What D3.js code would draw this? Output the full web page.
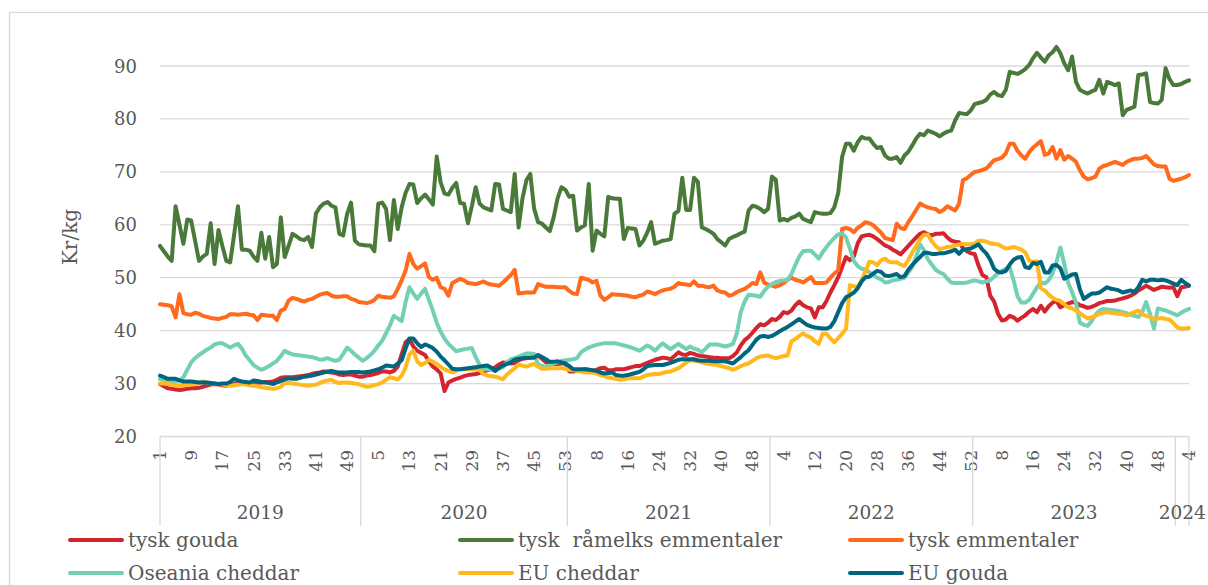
<!DOCTYPE html>
<html>
<head>
<meta charset="utf-8">
<script src="https://cdn.jsdelivr.net/npm/d3@7"></script>
<style>
  body { margin: 0; background: #fff; }
  text { font-family: "DejaVu Serif", Georgia, serif; fill: #595959; }
</style>
</head>
<body>
<div id="chart"></div>
<script>
// categories: weeks grouped by year
const years = [2019, 2020, 2021, 2022, 2023, 2024];
const weeksInYear = [52, 53, 52, 52, 52, 4];
const yTicks = [20, 30, 40, 50, 60, 70, 80, 90];

// series, one value per week (Kr/kg)
const tyskGouda = [
  29.9, 29.5, 29.1, 29, 28.9, 28.8, 28.9, 29, 29.1, 29.1, 29.2, 29.4, 29.6, 29.8, 29.9, 29.8, 29.7, 29.6, 29.8, 29.9,
  30, 29.9, 29.9, 29.9, 30, 30.1, 30.2, 30.3, 30.3, 30.4, 30.7, 31.1, 31.2, 31.2, 31.2, 31.3, 31.4, 31.5, 31.6, 31.8,
  32, 32.1, 32.3, 32.2, 32.1, 32, 31.7, 31.6, 31.7, 31.7, 31.5, 31.3,
  31.3, 31.5, 31.6, 31.8, 32, 32.3, 32.3, 32.1, 32.4, 33.2, 35.5, 37.8, 38.4, 37, 36.2, 35.8, 35.4, 34.2, 33.2, 32.7,
  31.9, 28.6, 30.2, 30.6, 30.9, 31.1, 31.4, 31.6, 31.7, 31.8, 32, 32.3, 32.5, 32.7, 33.1, 33.6, 34, 33.9, 33.8, 33.9,
  34.4, 34.7, 34.8, 34.9, 35.1, 35.3, 34.7, 34, 33.8, 33.7, 33.7, 33.8, 33.8,
  32.3, 32.3, 32.4, 32.5, 32.7, 32.6, 32.4, 32.6, 32.9, 33, 32.5, 32.5, 32.7, 32.7, 32.7, 32.9, 33.1, 33.3, 33.3, 33.6,
  33.9, 34.2, 34.5, 34.7, 34.9, 34.8, 34.6, 35.2, 35.9, 35.5, 35.4, 35.8, 35.6, 35.3, 35.2, 35.1, 35, 34.9, 34.9, 34.8,
  34.8, 34.8, 35.2, 35.9, 37.2, 38.2, 38.8, 39.6, 40.5, 41.2, 41, 41.5,
  42.2, 42, 42.6, 43.5, 43.3, 43.8, 44.8, 45.5, 44.8, 44.4, 44.2, 42.5, 44.4, 44.4, 45.6, 47.2, 48.6, 50.1, 52, 53.9,
  53.3, 54, 56.5, 57.8, 58, 58.1, 57.8, 57.3, 56.7, 56.1, 55.8, 55.3, 54.9, 54.4, 55.2, 56, 56.8, 57.6, 58.3, 58.6,
  58.2, 58, 58.3, 58.3, 58.4, 57.6, 57, 56.8, 56.7, 55.6, 55, 54.6,
  54.5, 52.3, 50.5, 50.1, 46.6, 45.5, 43.2, 41.9, 42.1, 42.8, 42.5, 41.9, 42.4, 42.9, 43.6, 44.1, 43.5, 44.7, 43.6, 44.6,
  45.3, 45.6, 44.4, 44.8, 45.1, 45.4, 45.3, 44.8, 44.6, 44.3, 44.5, 44.8, 45.2, 45.4, 45.6, 45.6, 45.7, 45.9, 46.1, 46.3,
  46.6, 47, 47.6, 48, 48.5, 48.1, 47.7, 48, 48.3, 48.2, 48.1, 48.2,
  46.5, 48.2, 48.3, 48.5
];

const tyskRaamelksEmmentaler = [
  56, 55, 54, 53.2, 63.5, 60, 56.4, 61, 60.8, 57, 53.2, 54, 54.5, 60.3, 52.6, 59, 56, 53.2, 52.9, 58,
  63.5, 55.3, 55.3, 55.1, 54, 53.2, 58.5, 53.6, 57.7, 52, 52.6, 61.4, 53.9, 56, 58.3, 57.8, 57.3, 57.1, 57.7, 55.8,
  62.1, 63.3, 64, 64.3, 63.6, 63.3, 58.3, 58, 62, 64.2, 57, 56.3,
  56.2, 56.1, 56.1, 55, 64, 64.2, 63, 57.1, 64.7, 59.2, 63.3, 66, 67.7, 67.6, 64.1, 65, 65.7, 64.8, 63.8, 72.9,
  68, 65.9, 65.7, 67, 67.9, 64.1, 64, 60.3, 63.5, 67.1, 64, 63.3, 63, 62.7, 67.7, 67.6, 63, 62.7, 62.4, 69.6,
  59.5, 65, 68.4, 69.6, 63, 60.5, 60.2, 59.5, 58.8, 61.4, 65, 67.1, 66.6,
  65.3, 65.5, 58.9, 59.5, 59.9, 67.7, 55.1, 58.9, 58.3, 57.8, 65.3, 65, 64.9, 64.9, 57.3, 59.4, 59.3, 59.2, 56.1, 57,
  58.5, 60.5, 56.4, 56.7, 57, 57.1, 57.3, 62.1, 62.6, 68.9, 62.8, 62.8, 68.9, 68.1, 59.5, 59.2, 58.8, 58.3, 57.3, 56.7,
  56.1, 57.3, 57.7, 58, 58.4, 58.7, 62.7, 63.6, 63.4, 63, 62.4, 63,
  69.1, 68.5, 60.8, 61.1, 60.8, 61.3, 61.6, 62.1, 61.1, 60.8, 60.5, 62.4, 62.2, 62.1, 62.1, 62.2, 63.3, 66, 72.8, 75.3,
  75.3, 74, 75.6, 76.6, 76.3, 76.3, 75.3, 74.5, 74.7, 73.1, 72.5, 72.5, 72.8, 71.7, 73.1, 73.8, 75, 76.3, 77.2, 76.9,
  77.8, 77.5, 77.2, 76.7, 77.2, 77.6, 77.8, 79.7, 81.1, 81, 80.9, 81.6,
  82.8, 83, 83.2, 83.6, 84.6, 85.1, 84.5, 84.3, 85.5, 88.9, 88.7, 88.5, 88.9, 89.4, 90.2, 91.5, 92.5, 91.6, 90.8, 92,
  92.6, 93.6, 92.4, 90.5, 89.2, 91.8, 87, 85.5, 85.1, 84.8, 85.2, 85.5, 87.4, 84.8, 87, 86.7, 86.4, 86.7, 80.7, 81.7,
  82, 82.3, 88.3, 88.4, 88.6, 83.2, 83, 82.9, 83.6, 89.6, 87.5, 86.4,
  86.4, 86.6, 87, 87.3
];

const tyskEmmentaler = [
  45, 44.9, 44.8, 44.6, 42.5, 46.9, 43.3, 43.1, 43, 43.4, 43.2, 42.8, 42.6, 42.4, 42.3, 42.2, 42.4, 42.6, 43.1, 43.1,
  43, 43.1, 43.2, 43, 42.9, 42, 43, 42.9, 42.8, 42.8, 42, 43.8, 44.1, 45.7, 46.2, 46, 45.7, 45.5, 45.8, 46,
  46.4, 46.8, 47, 47.1, 46.6, 46.4, 46.4, 46.5, 46.5, 46, 45.8, 45.4,
  45.3, 45.2, 45.4, 45.8, 46.6, 46.4, 46.3, 46.2, 46.5, 47.9, 49.5, 51.3, 54.5, 52.6, 51.7, 52.2, 52.7, 50.1, 49.6, 50,
  48.2, 47.9, 46.6, 49, 49.4, 49.8, 49.5, 49, 48.9, 48.8, 49, 49.3, 48.9, 48.7, 48.6, 48.5, 49.1, 49.8, 50.5, 51.5,
  47, 47.1, 47.2, 47.2, 47.2, 48.8, 48.5, 48.3, 48.3, 48.3, 48.2, 48.2, 48.2,
  47.5, 47, 46.9, 50, 49.8, 49.6, 49.1, 49.4, 46.6, 45.8, 46.3, 46.9, 46.8, 46.8, 46.7, 46.6, 46.4, 46.3, 46.6, 46.8,
  47.4, 47.2, 46.9, 47.3, 47.6, 47.8, 47.9, 48.3, 49, 48.8, 48.7, 48.6, 49.3, 48.5, 48.5, 48.3, 48.2, 48.5, 47.6, 47.3,
  47.2, 46.6, 46.8, 47.3, 47.6, 47.9, 48.4, 49, 48.8, 51, 49.1, 48.7,
  48.5, 48.3, 48.6, 49, 49.6, 50, 49.6, 49.4, 49.1, 49.6, 50.1, 49, 49, 49, 49.1, 50, 50.8, 51.4, 59.2, 59.4,
  59.2, 58.6, 59.4, 59.9, 60.5, 60.3, 59.9, 59.2, 58.5, 57.5, 57.3, 57.1, 60.2, 59.4, 59.2, 60.5, 61.6, 62.8, 64, 63.6,
  63.3, 63.1, 63, 62.4, 62.8, 63.5, 63.1, 62.7, 64, 68.4, 68.8, 69.4,
  70, 70.1, 70.4, 70.6, 71.4, 72.2, 72.4, 72.7, 73.5, 75.3, 75.3, 74, 73.1, 72.5, 73.7, 74.6, 75.2, 75.8, 73.2, 73.5,
  74.7, 72.5, 74.1, 72.3, 73, 72.5, 71.9, 70.3, 69.1, 68.6, 68.8, 69.1, 70.6, 71.1, 71.3, 71.6, 71.9, 71.6, 71.3, 71.9,
  72.2, 72.5, 72.5, 72.6, 73, 72.2, 71.4, 71.1, 71, 71, 68.7, 68.3,
  68.5, 68.7, 69, 69.4
];

const oseaniaCheddar = [
  30.8, 30.7, 30.6, 30.5, 30.5, 30.6, 31.2, 32.6, 34, 34.8, 35.4, 35.9, 36.4, 36.8, 37.4, 37.6, 37.6, 37.2, 36.8, 37.2,
  37.5, 36.6, 35.3, 34.4, 33.5, 33, 32.6, 32.9, 33.3, 33.8, 34.3, 35.2, 36.2, 35.8, 35.5, 35.4, 35.3, 35.2, 35.1, 35,
  34.8, 34.5, 34.6, 34.8, 34.5, 34.3, 34.5, 35.6, 36.8, 36.2, 35.5, 34.9,
  34.3, 34.8, 35.4, 36.2, 37.2, 38.1, 39.5, 41, 42.8, 42.3, 41.8, 45.4, 48.2, 47, 46, 47, 47.9, 45.8, 43.8, 41.5,
  39.8, 38.5, 37.5, 36.8, 36.1, 36.3, 36.5, 36.6, 36.7, 35, 33.5, 32.7, 32.7, 32.6, 32.5, 32.8, 33.1, 34, 34.6, 34.8,
  35.1, 35.4, 35.7, 35.7, 35.6, 33.6, 33.3, 33.2, 33.5, 33.8, 34, 34.3, 34.4,
  34.5, 34.6, 34.8, 35.9, 36.4, 36.8, 37.1, 37.3, 37.5, 37.6, 37.6, 37.6, 37.6, 37.4, 37.2, 37, 36.8, 36.5, 36.2, 36.7,
  37.2, 36.8, 36.2, 37, 37.6, 37, 36.5, 37, 37.5, 37, 36.5, 37, 36.6, 36.4, 35.9, 36.6, 37.4, 37.4, 37.4, 37.2,
  37, 37.2, 37.5, 39.5, 43.5, 45.5, 46.8, 46.7, 46.6, 46.4, 47.5, 48.3,
  48.8, 49.2, 49.4, 49.5, 49.6, 50.7, 52.4, 54, 55, 55.1, 55.1, 54.4, 53.6, 54.8, 55.8, 56.7, 57.5, 58.2, 58.4, 57.6,
  55.5, 53.2, 52.2, 51.7, 51.5, 51, 50.5, 50, 49.7, 49.1, 49.2, 49.5, 49.6, 49.8, 50, 51, 52, 54, 56.3, 55.2,
  53.5, 52.5, 51.5, 51, 50.7, 49.8, 49.1, 49, 49, 49, 49.1, 49.3,
  49.5, 49.3, 49.1, 49.3, 49.5, 50.2, 50.8, 51.3, 51.7, 52, 49.5, 46.5, 45.3, 45.3, 45.8, 47, 48.2, 49.1, 48.9, 49.5,
  50.8, 53, 55.7, 52.6, 49, 47.3, 45.3, 41.5, 41.1, 40.9, 41.8, 43, 43.8, 44.1, 44, 43.9, 43.8, 43.7, 43.5, 43.3,
  43, 42.8, 42.6, 43.5, 45.4, 43.2, 40.4, 44.2, 44, 43.8, 43.5, 43.2,
  42.9, 43.4, 43.8, 44.1
];

const euCheddar = [
  30, 30, 29.9, 29.8, 29.7, 29.6, 29.7, 29.8, 29.8, 29.9, 30.1, 30.4, 30.2, 30.1, 30, 29.9, 29.8, 29.7, 29.6, 29.7,
  29.8, 29.9, 29.8, 29.7, 29.6, 29.5, 29.3, 29.2, 29.1, 29, 29.1, 29.4, 30.1, 30.1, 30, 29.9, 29.8, 29.7, 29.6, 29.7,
  29.8, 30.1, 30.4, 30.6, 30.7, 30.3, 30.1, 30.2, 30.2, 30.1, 30, 29.9,
  29.6, 29.4, 29.5, 29.7, 29.9, 30.2, 30.7, 31.2, 31, 30.8, 31.5, 33, 35.5, 36.2, 34.2, 33.5, 33.9, 34.5, 34.1, 33.7,
  33.2, 32.7, 32.4, 32.1, 32.4, 32.7, 32.7, 32.7, 32.7, 32.7, 32.6, 31.8, 31.5, 31.4, 31.3, 31.1, 30.8, 31.7, 32.3, 32.9,
  33.6, 33.4, 33.2, 33.5, 33.7, 33.2, 32.8, 32.8, 32.9, 32.9, 32.9, 32.9, 32.8,
  32.6, 32.5, 32.4, 32.3, 32.1, 32.1, 32.1, 31.9, 31.6, 31.4, 31.2, 31, 30.9, 30.7, 30.8, 31, 31, 31, 31, 31.3,
  31.6, 31.7, 31.8, 31.8, 32, 32.2, 32.3, 32.6, 32.9, 33.4, 34, 34.4, 34.3, 34.2, 34, 33.8, 33.7, 33.6, 33.5, 33.3,
  33.1, 32.9, 32.6, 32.9, 33.3, 33.6, 33.8, 34.3, 34.8, 35.1, 35.2, 35.3,
  35, 34.8, 35, 35.2, 35.3, 38, 38.4, 39, 39.5, 39, 38.7, 38, 37.5, 39.4, 39.4, 38.5, 37.8, 38.6, 39.4, 40.3,
  48.6, 48.4, 48.3, 49.5, 51.2, 53, 52.9, 52.4, 53.3, 53.6, 53, 52.9, 52.9, 52.5, 52.2, 53.4, 54.8, 56, 57.3, 58.1,
  58.1, 56.9, 56, 55.4, 55.6, 55.8, 55.9, 56.1, 56.3, 56.4, 56.3, 56.3,
  56.5, 57, 57, 56.8, 56.5, 56.4, 56.3, 55.9, 55.5, 55.6, 55.8, 55.6, 55.3, 54.8, 53.2, 53, 53.1, 48, 47.6, 46.8,
  46.2, 45.8, 45.6, 45, 44.4, 44.2, 43.8, 43.3, 42.8, 42.3, 42.5, 42.8, 43.2, 43.4, 43.5, 43.4, 43.3, 43.2, 43.1, 42.9,
  43.2, 43.5, 43.8, 43.1, 42.8, 42.6, 42.2, 42.3, 42.4, 42.2, 42.1, 41.4,
  40.6, 40.4, 40.4, 40.5
];

const euGouda = [
  31.5, 31.2, 30.9, 30.9, 30.9, 30.6, 30.4, 30.4, 30.4, 30.3, 30.2, 30.2, 30.2, 30.1, 30, 29.9, 30, 30, 30.3, 30.9,
  30.6, 30.4, 30.3, 30.2, 30.6, 30.5, 30.3, 30.2, 30.1, 29.9, 30.2, 30.5, 30.8, 31, 30.9, 30.9, 31.1, 31.3, 31.4, 31.5,
  31.7, 31.9, 32.1, 32.3, 32.4, 32.2, 32.1, 32.1, 32.1, 32.2, 32.2, 32.2,
  32.1, 32.2, 32.3, 32.5, 32.7, 33, 33.4, 33.3, 33.2, 33.8, 34.4, 36.6, 38.5, 38.5, 37.6, 36.9, 37.4, 37.1, 36.7, 36,
  35.1, 34.4, 33.6, 32.8, 32.7, 32.7, 32.8, 32.9, 33, 33.1, 33.2, 33.3, 33.4, 33, 32.4, 33, 33.4, 33.7, 34, 34.5,
  34.7, 34.8, 34.9, 34.9, 34.9, 35.4, 35, 34.6, 34.1, 34.1, 34.2, 34, 33.8,
  33.3, 32.7, 32.7, 32.7, 32.7, 32.6, 32.5, 32.4, 32.1, 31.9, 32, 32.1, 31.6, 31.5, 31.5, 31.6, 31.8, 32, 32.2, 32.7,
  33.3, 33.4, 33.5, 33.5, 33.5, 33.7, 33.9, 34.2, 34.5, 34.6, 34.6, 34.6, 34.6, 34.4, 34.3, 34.3, 34.3, 34.2, 34.2, 34.2,
  34.2, 34, 33.8, 34.4, 35, 35.7, 36.3, 37.3, 38.3, 38.9, 39, 38.8,
  39, 39.4, 39.9, 40.3, 40.7, 41.2, 41.7, 42.2, 41.6, 41.1, 40.8, 40.6, 40.5, 40.4, 40.4, 40.7, 41.8, 43.5, 45.2, 46.3,
  46.7, 47.2, 48, 49.3, 50.1, 50.2, 50.8, 51.3, 51.1, 50.4, 50.3, 50.5, 50.7, 50.1, 50.3, 51.5, 52.4, 53.2, 53.9, 54.7,
  54.7, 54.5, 54.5, 54.6, 54.6, 54.8, 55, 55.3, 54.5, 55.3, 55.4, 55.5,
  55.9, 56.3, 55.3, 54.6, 53.4, 51.7, 51.1, 51, 51.3, 52.5, 53.4, 53.8, 53.9, 52, 51.8, 52.8, 52.6, 53, 51, 51,
  52.3, 52.4, 51.8, 49.8, 50.2, 50.6, 50.7, 47.8, 46, 46.5, 47, 47, 47.2, 47.7, 48.2, 47.9, 47.8, 47.6, 47.2, 47.4,
  47.6, 47.3, 48.2, 49.6, 49.3, 49.6, 49.6, 49.5, 49.6, 49.5, 49.2, 48.9,
  48.6, 49.6, 49, 48.5
];

const series = [
  { name: "tysk gouda", values: tyskGouda, color: "#d4252f" },
  { name: "tysk  råmelks emmentaler", values: tyskRaamelksEmmentaler, color: "#4a7a39" },
  { name: "tysk emmentaler", values: tyskEmmentaler, color: "#ff6a1c" },
  { name: "Oseania cheddar", values: oseaniaCheddar, color: "#72d0b5" },
  { name: "EU cheddar", values: euCheddar, color: "#ffb81d" },
  { name: "EU gouda", values: euGouda, color: "#006680" }
];

// week categories
const categories = [];
years.forEach((yr, k) => {
  for (let w = 1; w <= weeksInYear[k]; w++) categories.push({ year: yr, week: w });
});

const W = 1208, H = 585;
const svg = d3.select("#chart").append("svg")
  .attr("width", W).attr("height", H);

// chart border
svg.append("rect")
  .attr("x", 9.5).attr("y", 12.5).attr("width", 1300).attr("height", 700)
  .attr("fill", "none").attr("stroke", "#d9d9d9").attr("stroke-width", 1.3);

const x = d3.scalePoint()
  .domain(d3.range(categories.length))
  .range([160, 1189]);
const y = d3.scaleLinear()
  .domain([20, 90])
  .range([436.5, 66]);

// gridlines
svg.append("g")
  .selectAll("line")
  .data(yTicks)
  .join("line")
  .attr("x1", 160).attr("x2", 1189)
  .attr("y1", d => y(d)).attr("y2", d => y(d))
  .attr("stroke", "#d9d9d9").attr("stroke-width", 1.3);

// y tick labels
svg.append("g")
  .selectAll("text")
  .data(yTicks)
  .join("text")
  .attr("x", 137).attr("y", d => y(d))
  .attr("text-anchor", "end")
  .attr("dominant-baseline", "central")
  .style("font-size", "18px")
  .text(d => d);

// y axis title
svg.append("text")
  .attr("transform", "translate(70,237) rotate(-90)")
  .attr("text-anchor", "middle")
  .attr("dominant-baseline", "central")
  .style("font-size", "20px")
  .text("Kr/kg");

// x tick labels (every 8th week), rotated
svg.append("g")
  .selectAll("text")
  .data(categories.map((c, i) => ({ c, i })).filter(d => d.i % 8 === 0))
  .join("text")
  .attr("transform", d => `translate(${x(d.i)},450) rotate(-90)`)
  .attr("text-anchor", "end")
  .attr("dominant-baseline", "central")
  .style("font-size", "17px")
  .text(d => d.c.week);

// year separators and labels
const step = x.step();
let start = 0;
const bounds = [];
years.forEach((yr, k) => {
  const end = start + weeksInYear[k] - 1;
  const left = k === 0 ? x(0) : x(start) - step / 2;
  const right = k === years.length - 1 ? x(end) : x(end) + step / 2;
  bounds.push({ yr, left, right });
  start = end + 1;
});
const sepX = [bounds[0].left].concat(bounds.map(b => b.right));
svg.append("g")
  .selectAll("line")
  .data(sepX)
  .join("line")
  .attr("x1", d => d).attr("x2", d => d)
  .attr("y1", 436.5).attr("y2", 526)
  .attr("stroke", "#d9d9d9").attr("stroke-width", 1.3);
svg.append("g")
  .selectAll("text")
  .data(bounds)
  .join("text")
  .attr("x", d => (d.left + d.right) / 2)
  .attr("y", 512)
  .attr("text-anchor", "middle")
  .attr("dominant-baseline", "central")
  .style("font-size", "18.5px")
  .text(d => d.yr);

// lines
const line = d3.line()
  .x((d, i) => x(i))
  .y(d => y(d));
svg.append("g")
  .selectAll("path")
  .data(series)
  .join("path")
  .attr("d", d => line(d.values))
  .attr("fill", "none")
  .attr("stroke", d => d.color)
  .attr("stroke-width", 4)
  .attr("stroke-linejoin", "round")
  .attr("stroke-linecap", "round");

// legend
const legendX = [70, 460, 850];
const legendY = [540, 573];
const lg = svg.append("g")
  .selectAll("g")
  .data(series)
  .join("g")
  .attr("transform", (d, i) => `translate(${legendX[i % 3]},${legendY[Math.floor(i / 3)]})`);
lg.append("line")
  .attr("x1", 0).attr("x2", 52)
  .attr("stroke", d => d.color)
  .attr("stroke-width", 4)
  .attr("stroke-linecap", "round");
lg.append("text")
  .attr("x", 58)
  .attr("dominant-baseline", "central")
  .style("font-size", "20px")
  .style("white-space", "pre")
  .text(d => d.name);
</script>
</body>
</html>
